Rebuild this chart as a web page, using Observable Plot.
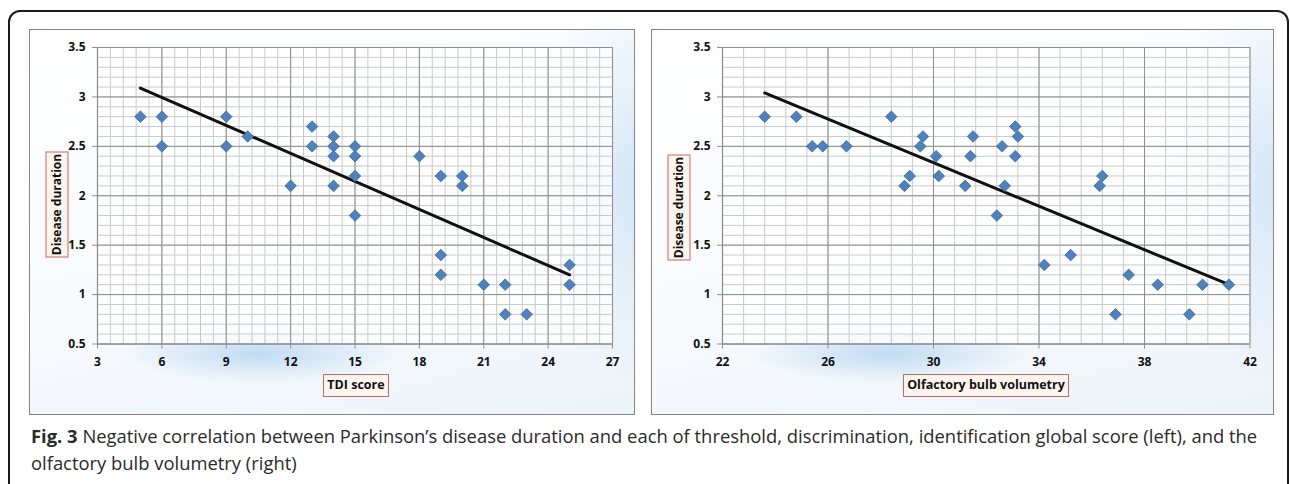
<!DOCTYPE html>
<html>
<head>
<meta charset="utf-8">
<script src="https://cdn.jsdelivr.net/npm/d3@7"></script>
<script src="https://cdn.jsdelivr.net/npm/@observablehq/plot@0.6"></script>
<style>
  html, body { margin: 0; padding: 0; }
  body { width: 1290px; height: 484px; overflow: hidden; background: #fff; position: relative; font-family: "Open Sans", sans-serif; }
  #card { position: absolute; left: 8px; top: 10px; width: 1281px; height: 560px; border: 2px solid #1b1b1b; border-radius: 12px; box-sizing: border-box; }
  .panel { position: absolute; top: 29px; height: 386px; outline: 1.5px solid #858585; outline-offset: -1.5px;
    background:
      radial-gradient(ellipse 140px 30px at 38% 84%, rgba(150,195,235,0.55), rgba(150,195,235,0) 100%),
      radial-gradient(ellipse 120px 200px at 100% 40%, rgba(190,220,245,0.6), rgba(190,220,245,0) 100%),
      linear-gradient(165deg, #ffffff 0%, #f7fafd 55%, #edf4fa 100%); }
  #pl { left: 29px; width: 606px; }
  #pr { left: 651px; width: 623px; }
  .panel svg { position: absolute; left: 0; top: 0; }
  .tbox { position: absolute; box-sizing: border-box; border: 1.3px solid #c46a66; background: #fcf5ee;
    font-family: "Open Sans", sans-serif; font-weight: 700; font-size: 12.5px; color: #111; text-align: center; line-height: 20px; white-space: nowrap; }
  .ybox { font-size: 12px; }
  #caption { position: absolute; left: 31px; top: 422px; font-size: 18.4px; line-height: 27px; color: #2a2a2a; white-space: nowrap; }
  #caption b { font-weight: 700; }
</style>
</head>
<body>
<div id="card"></div>
<div class="panel" id="pl"></div>
<div class="panel" id="pr"></div>
<div class="tbox ybox" style="left:3.5px; top:193px; width:106px; height:23px; transform: rotate(-90deg);">Disease duration</div>
<div class="tbox ybox" style="left:625.5px; top:196px; width:106px; height:23px; transform: rotate(-90deg);">Disease duration</div>
<div class="tbox" style="left:323px; top:374px; width:66px; height:23px;">TDI score</div>
<div class="tbox" style="left:903px; top:374px; width:166px; height:23px;">Olfactory bulb volumetry</div>
<div id="caption"><b>Fig. 3</b> Negative correlation between Parkinson’s disease duration and each of threshold, discrimination, identification global score (left), and the<br>olfactory bulb volumetry (right)</div>
<script>
// ---- data ----
const tdiX = [5, 6, 6, 9, 9, 10, 12, 13, 13, 14, 14, 14, 14, 15, 15, 15, 15, 18, 19, 19, 19, 20, 20, 21, 22, 22, 23, 25, 25];
const tdiY = [2.8, 2.8, 2.5, 2.8, 2.5, 2.6, 2.1, 2.7, 2.5, 2.6, 2.5, 2.4, 2.1, 2.5, 2.4, 2.2, 1.8, 2.4, 2.2, 1.4, 1.2, 2.2, 2.1, 1.1, 1.1, 0.8, 0.8, 1.3, 1.1];
const tdiTrendX = [5, 25];
const tdiTrendY = [3.09, 1.2];

const obvX = [23.6, 24.8, 25.4, 25.8, 26.7, 28.4, 28.9, 29.1, 29.5, 29.6, 30.1, 30.2, 31.2, 31.4, 31.5, 32.4, 32.6, 32.7, 33.1, 33.1, 33.2, 34.2, 35.2, 36.3, 36.4, 36.9, 37.4, 38.5, 39.7, 40.2, 41.2];
const obvY = [2.8, 2.8, 2.5, 2.5, 2.5, 2.8, 2.1, 2.2, 2.5, 2.6, 2.4, 2.2, 2.1, 2.4, 2.6, 1.8, 2.5, 2.1, 2.7, 2.4, 2.6, 1.3, 1.4, 2.1, 2.2, 0.8, 1.2, 1.1, 0.8, 1.1, 1.1];
const obvTrendX = [23.6, 41.3];
const obvTrendY = [3.04, 1.09];

const yTicks = [0.5, 1, 1.5, 2, 2.5, 3, 3.5];
const tdiTicks = [3, 6, 9, 12, 15, 18, 21, 24, 27];
const obvTicks = [22, 26, 30, 34, 38, 42];

function chart({xs, ys, tx, ty, xTicks, xMinorStep, width, marginLeft, marginRight}) {
  const x0 = xTicks[0], x1 = xTicks[xTicks.length - 1];
  const minorX = d3.range(0, Math.round((x1 - x0) / xMinorStep) + 1).map(i => +(x0 + i * xMinorStep).toFixed(4));
  const minorY = d3.range(0, 31).map(i => +(0.5 + i * 0.1).toFixed(4));
  const pts = xs.map((v, i) => ({x: v, y: ys[i]}));
  const trend = tx.map((v, i) => ({x: v, y: ty[i]}));
  return Plot.plot({
    width, height: 386,
    marginLeft, marginRight, marginTop: 18, marginBottom: 71.5,
    style: {background: "transparent", fontFamily: "'Open Sans', sans-serif", fontSize: "12px", fontWeight: "700", color: "#111"},
    x: {domain: [x0, x1], label: null},
    y: {domain: [0.5, 3.5], label: null},
    marks: [
      Plot.frame({fill: "white", fillOpacity: 0.78, stroke: null}),
      Plot.ruleX(minorX, {stroke: "#c9c9c9", strokeWidth: 1}),
      Plot.ruleY(minorY, {stroke: "#c9c9c9", strokeWidth: 1}),
      Plot.ruleX(xTicks, {stroke: "#8e8e8e", strokeWidth: 1}),
      Plot.ruleY(yTicks, {stroke: "#8e8e8e", strokeWidth: 1}),
      Plot.axisX({ticks: xTicks, tickSize: 5, tickPadding: 8, stroke: "#8e8e8e", fill: "#111", fontWeight: "700", tickFormat: d => String(d), label: null}),
      Plot.axisY({ticks: yTicks, tickSize: 5, tickPadding: 7, stroke: "#8e8e8e", fill: "#111", fontWeight: "700", tickFormat: d => String(d), label: null}),
      Plot.ruleX([x0], {stroke: "#8a8a8a", strokeWidth: 1.2}),
      Plot.ruleY([0.5], {stroke: "#8a8a8a", strokeWidth: 1.2}),
      Plot.line(trend, {x: "x", y: "y", stroke: "#111", strokeWidth: 3}),
      Plot.dot(pts, {x: "x", y: "y", symbol: "diamond2", r: 5.2, fill: "#4f81bd", stroke: "#3b6597", strokeWidth: 0.8})
    ]
  });
}

document.getElementById("pl").appendChild(chart({
  xs: tdiX, ys: tdiY, tx: tdiTrendX, ty: tdiTrendY, xTicks: tdiTicks, xMinorStep: 0.6,
  width: 606, marginLeft: 68, marginRight: 23
}));
document.getElementById("pr").appendChild(chart({
  xs: obvX, ys: obvY, tx: obvTrendX, ty: obvTrendY, xTicks: obvTicks, xMinorStep: 0.8,
  width: 623, marginLeft: 71, marginRight: 24.5
}));
</script>
</body>
</html>
